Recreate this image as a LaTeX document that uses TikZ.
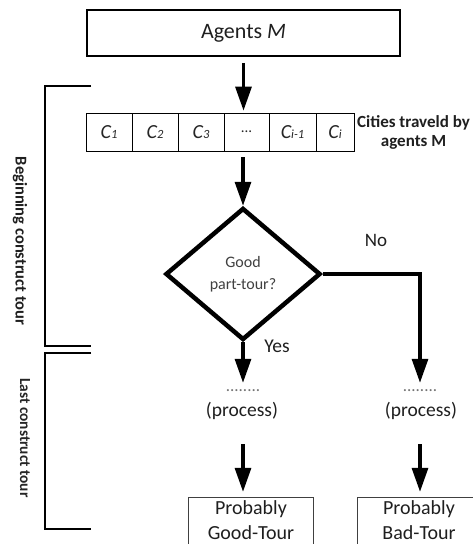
\documentclass[tikz,border=0pt]{standalone}
\usepackage{fontspec}
\setmainfont{Carlito}
\usetikzlibrary{arrows.meta,shapes.geometric}
\begin{document}
\begin{tikzpicture}[x=1pt,y=-1pt,
  arr/.style={line width=3.2pt,-{Triangle[width=16pt,length=24pt]}},
  cell/.style={draw, line width=0.8pt, minimum height=38pt, inner sep=0pt,
    font=\fontsize{20}{22}\selectfont\itshape, text=black!85},
  bigtext/.style={font=\fontsize{19.5}{23}\selectfont, text=black!88},
  dots/.style={font=\fontsize{17}{17}\selectfont, text=black!55, inner sep=0pt},
  bracket/.style={line width=2pt},
  endbox/.style={inner sep=0pt, minimum width=124pt, minimum height=45pt, align=center,
    font=\fontsize{20}{25}\selectfont, text=black!88}
]
\useasboundingbox (0,0) rectangle (473,544);
\clip (0,0) rectangle (473,544);

% top box
\node[draw, line width=1.8pt, minimum width=313pt, minimum height=46pt, inner sep=0pt,
  font=\fontsize{22}{26}\selectfont, text=black!88] (agents) at (243.5,33) {Agents \textit{M}};

% cities row
\newcommand{\sm}[1]{{\fontsize{12.5}{12.5}\selectfont #1}}
\node[cell, minimum width=46pt] (c1) at (109,132) {C\sm{1}};
\node[cell, minimum width=46pt] (c2) at (155,132) {C\sm{2}};
\node[cell, minimum width=46pt] (c3) at (201,132) {C\sm{3}};
\node[cell, minimum width=45pt, font=\fontsize{15}{16}\selectfont] (c4) at (246.5,132) {...};
\node[cell, minimum width=47pt] (c5) at (292.5,132) {C\sm{i-1}};
\node[cell, minimum width=38pt] (c6) at (335,132) {C\sm{i}};
\node[anchor=west, inner sep=0pt, align=center, font=\fontsize{17}{19}\selectfont\bfseries,
  text=black!88] (lbl) at (357,132) {Cities traveld by\\agents M};

% decision
\node[diamond, draw, line width=4.5pt, minimum width=155pt, minimum height=132pt, inner sep=0pt,
  aspect=1.17, align=center, font=\fontsize{16}{22}\selectfont, text=black!75] (dia) at (243,274)
  {Good\\part-tour?};

% process nodes
\node[dots] (d1) at (243,391) {........};
\node[bigtext, anchor=base, inner sep=0pt, text height=14pt, text depth=5pt] (p1) at (242,416) {(process)};
\node[dots] (d2) at (420,391) {........};
\node[bigtext, anchor=base, inner sep=0pt, text height=14pt, text depth=5pt] (p2) at (421,416) {(process)};

% end boxes
\node[endbox] (g) at (251,520.5) {Probably\\Good-Tour};
\node[endbox, minimum width=122pt] (b) at (419,520.5) {Probably\\Bad-Tour};
\draw[line width=1pt, black!75] (g.north west) rectangle ([yshift=-20pt]g.south east);
\draw[line width=1pt, black!75] (b.north west) rectangle ([yshift=-20pt]b.south east);

% labels
\node[bigtext, font=\fontsize{19}{22}\selectfont] (no) at (376,240) {No};
\node[bigtext] (yes) at (277,346) {Yes};

% arrows
\draw[arr, shorten <=6pt, shorten >=2pt] (agents.south) -- (agents.south |- c4.north);
\draw[arr, shorten <=6pt, shorten >=0pt] (dia.north |- c4.south) -- (dia.north);
\draw[arr, shorten >=7pt] (dia.south) -- (d1.north);
\draw[arr, shorten >=7pt] (dia.east) -| (d2.north);
\draw[arr, shorten <=23pt, shorten >=6pt] (d1.south |- p1.south) -- (d1.south |- g.north);
\draw[arr, shorten <=23pt, shorten >=6pt] (d2.south |- p2.south) -- (d2.south |- b.north);

% brackets
\coordinate (b1t) at (91,86);
\coordinate (b1b) at (91,346);
\coordinate (b2t) at (91,353);
\coordinate (b2b) at (91,529);
\draw[bracket] (b1t) -- (45,86) -- (45,346) -- (b1b);
\draw[bracket] (b2t) -- (45,353) -- (45,529) -- (b2b);
\node[rotate=-90, font=\fontsize{16.5}{20}\selectfont\bfseries, text=black!88] (bl1) at (20,241)
  {Beginning construct tour};
\node[rotate=-90, font=\fontsize{15.4}{20}\selectfont\bfseries, text=black!85] (bl2) at (25,438)
  {Last construct tour};
\end{tikzpicture}
\end{document}
